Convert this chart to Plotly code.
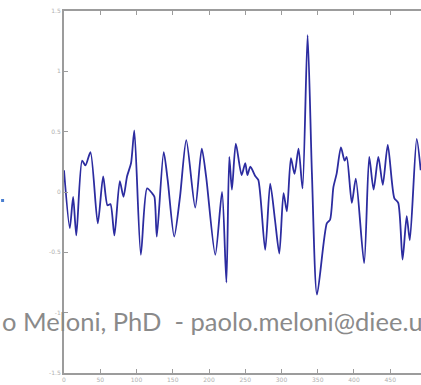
import plotly.graph_objects as go

# Traced signal samples (sample index, amplitude)
sample_idx = [0, 8, 12.6, 17, 25, 29.6, 36.5, 46.6, 54, 60, 64, 69.5, 77, 82, 87, 92.5, 97,
              106, 114.6, 121.5, 124.7, 128, 137.5, 143, 152, 160, 168.7, 181, 190, 196,
              208.7, 218, 224, 228, 231.6, 237, 245, 250, 253, 257, 264, 268, 277.5, 284.4,
              291, 297, 302.8, 307.4, 313, 318, 323.5, 329, 336, 342, 349, 362.5, 367, 371.6,
              376, 382, 387, 390, 397, 402.5, 414, 421, 427, 433.6, 439.7, 446.6, 455.6,
              461, 467, 472.7, 477, 486.5, 492]
amplitude = [0.18, -0.30, -0.04, -0.36, 0.26, 0.22, 0.33, -0.26, 0.13, -0.11, -0.10, -0.36,
             0.09, -0.04, 0.13, 0.24, 0.51, -0.52, 0.03, -0.01, -0.04, -0.37, 0.33, 0.10,
             -0.37, -0.04, 0.43, -0.13, 0.36, 0.13, -0.52, 0.00, -0.75, 0.29, 0.02, 0.40,
             0.14, 0.24, 0.14, 0.21, 0.13, 0.10, -0.48, 0.07, -0.23, -0.51, -0.01, -0.16,
             0.28, 0.15, 0.36, 0.03, 1.30, 0.15, -0.85, -0.26, -0.23, 0.04, 0.15, 0.37, 0.26,
             0.29, -0.09, 0.11, -0.59, 0.29, 0.02, 0.29, 0.06, 0.39, -0.05, -0.09, -0.56,
             -0.20, -0.40, 0.44, 0.18]

x_ticks = [0, 50, 100, 150, 200, 250, 300, 350, 400, 450]
x_tick_labels = ["0", "50", "100", "150", "200", "250", "300", "350", "400", "450"]
y_ticks = [-1.5, -1, -0.5, 0, 0.5, 1, 1.5]
y_tick_labels = ["-1.5", "-1", "-0.5", "0", "0.5", "1", "1.5"]
watermark = "o Meloni, PhD  - paolo.meloni@diee.u"

W, H = 421, 385
L, T, B = 63.5, 11, 12
plot_w = W - L

fig = go.Figure()
fig.add_trace(go.Scatter(
    x=sample_idx, y=amplitude, mode="lines",
    line=dict(color="#2c2ca0", width=1.8, shape="spline", smoothing=0.7),
    hoverinfo="skip", showlegend=False,
))

axis_col = "#9c9c9c"
fig.update_xaxes(
    range=[0, plot_w / 0.726], tickvals=x_ticks, ticktext=x_tick_labels,
    showgrid=False, zeroline=False, showline=True, linecolor=axis_col, linewidth=2,
    mirror="ticks", ticks="inside", ticklen=4, tickcolor=axis_col, tickwidth=1,
    tickfont=dict(size=6, color="#b0b0b0", family="DejaVu Sans"),
)
fig.update_yaxes(
    range=[-1.5, 1.5], tickvals=y_ticks, ticktext=y_tick_labels,
    showgrid=False, zeroline=False, showline=True, linecolor=axis_col, linewidth=2,
    ticks="inside", ticklen=4, tickcolor=axis_col, tickwidth=1,
    tickfont=dict(size=6, color="#b0b0b0", family="DejaVu Sans"),
)

fig.add_annotation(
    text=watermark, xref="paper", yref="paper",
    x=(-1 - L) / plot_w, y=(H - B - 321) / (H - T - B),
    xanchor="left", yanchor="middle", showarrow=False,
    font=dict(family="Lato", size=25.5, color="#8a8a8a"),
)
# small blue slide bullet at the left edge
fig.add_shape(type="rect", xref="paper", yref="paper",
              x0=(0.5 - L) / plot_w, x1=(3.5 - L) / plot_w,
              y0=(H - B - 202) / (H - T - B), y1=(H - B - 199) / (H - T - B),
              fillcolor="#4a7fd0", line_width=0)

fig.update_layout(
    width=W, height=H, margin=dict(l=L, r=0, t=T, b=B, pad=0),
    paper_bgcolor="white", plot_bgcolor="white",
)
fig.write_html("out.html", config={"displayModeBar": False, "staticPlot": True},
               post_script="document.body.style.margin='0';document.body.style.overflow='hidden';")
